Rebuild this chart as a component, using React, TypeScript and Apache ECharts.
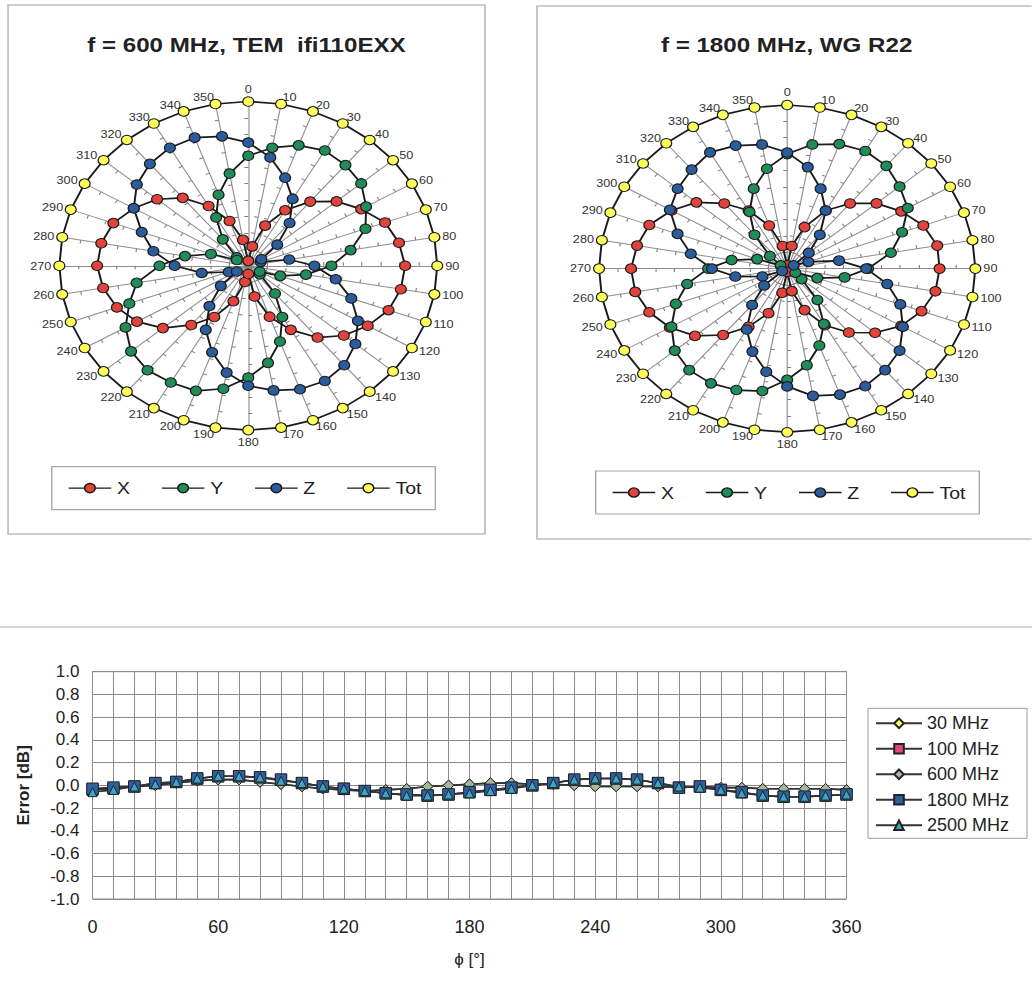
import React, { useEffect, useRef } from "react";
import * as echarts from "echarts";

// ---------- polar (radar) data, angles clockwise from top ----------
const ANGLES = [0, 10, 20, 30, 40, 50, 60, 70, 80, 90, 100, 110, 120, 130, 140, 150, 160, 170,
  180, 190, 200, 210, 220, 230, 240, 250, 260, 270, 280, 290, 300, 310, 320, 330, 340, 350];

const X_600 = [0.03, 0.12, 0.26, 0.39, 0.51, 0.61, 0.69, 0.77, 0.81, 0.83, 0.82, 0.79, 0.73, 0.66, 0.57, 0.45, 0.33, 0.19,
  0.05, 0.10, 0.23, 0.36, 0.47, 0.59, 0.68, 0.74, 0.78, 0.80, 0.79, 0.76, 0.70, 0.63, 0.54, 0.42, 0.29, 0.16];
const Y_600 = [0.67, 0.73, 0.78, 0.81, 0.80, 0.78, 0.72, 0.66, 0.55, 0.44, 0.31, 0.18, 0.07, 0.08, 0.22, 0.36, 0.49, 0.60,
  0.68, 0.76, 0.81, 0.82, 0.83, 0.81, 0.75, 0.67, 0.60, 0.47, 0.34, 0.21, 0.07, 0.08, 0.21, 0.34, 0.46, 0.57];
const Z_600 = [0.75, 0.67, 0.57, 0.47, 0.34, 0.20, 0.08, 0.07, 0.22, 0.35, 0.47, 0.58, 0.67, 0.74, 0.79, 0.81, 0.80, 0.77,
  0.73, 0.66, 0.56, 0.45, 0.32, 0.19, 0.07, 0.11, 0.25, 0.39, 0.51, 0.60, 0.70, 0.77, 0.81, 0.83, 0.83, 0.80];
const TOT_600 = [1, 1, 1, 1, 1, 1, 1, 1, 1, 1, 1, 1, 1, 1, 1, 1, 1, 1,
  1, 1, 1, 1, 1, 1, 1, 1, 1, 1, 1, 1, 1, 1, 1, 1, 1, 1];

const X_1800 = [0.02, 0.14, 0.27, 0.41, 0.52, 0.62, 0.70, 0.77, 0.81, 0.81, 0.80, 0.76, 0.70, 0.61, 0.51, 0.40, 0.27, 0.14,
  0.02, 0.15, 0.29, 0.41, 0.53, 0.64, 0.72, 0.78, 0.82, 0.83, 0.81, 0.78, 0.71, 0.63, 0.52, 0.41, 0.28, 0.14];
const Y_1800 = [0.70, 0.77, 0.81, 0.83, 0.82, 0.78, 0.74, 0.65, 0.56, 0.43, 0.31, 0.17, 0.05, 0.10, 0.25, 0.39, 0.50, 0.60,
  0.68, 0.76, 0.79, 0.81, 0.81, 0.78, 0.71, 0.63, 0.54, 0.42, 0.30, 0.17, 0.04, 0.12, 0.27, 0.40, 0.52, 0.62];
const Z_1800 = [0.71, 0.63, 0.52, 0.41, 0.27, 0.15, 0.04, 0.12, 0.28, 0.42, 0.54, 0.64, 0.71, 0.78, 0.81, 0.83, 0.82, 0.79,
  0.72, 0.64, 0.54, 0.43, 0.29, 0.16, 0.03, 0.14, 0.28, 0.40, 0.52, 0.62, 0.72, 0.76, 0.79, 0.82, 0.80, 0.77];
const TOT_1800 = [1, 1, 1, 1, 1, 1, 1, 1, 1, 1, 1, 1, 1, 1, 1, 1, 1, 1,
  1, 1, 1, 1, 1, 1, 1, 1, 1, 1, 1, 1, 1, 1, 1, 1, 1, 1];

const POLAR_NAMES = ["X", "Y", "Z", "Tot"];
const TITLE_LEFT = "f = 600 MHz, TEM  ifi110EXX";
const TITLE_RIGHT = "f = 1800 MHz, WG R22";

// ---------- error vs phi data ----------
const PHI = [0, 10, 20, 30, 40, 50, 60, 70, 80, 90, 100, 110, 120, 130, 140, 150, 160, 170, 180,
  190, 200, 210, 220, 230, 240, 250, 260, 270, 280, 290, 300, 310, 320, 330, 340, 350, 360];
const E_30 = [-0.04, -0.02, -0.01, 0.00, 0.02, 0.04, 0.05, 0.05, 0.03, 0.01, -0.01, -0.03, -0.04, -0.05, -0.04, -0.03, -0.01, 0.00, 0.01,
  0.02, 0.02, 0.01, 0.01, 0.00, -0.01, -0.01, -0.01, -0.01, -0.02, -0.01, -0.02, -0.02, -0.03, -0.03, -0.03, -0.03, -0.04];
const E_100 = [-0.04, -0.03, -0.01, 0.02, 0.03, 0.06, 0.08, 0.08, 0.07, 0.05, 0.02, -0.01, -0.03, -0.05, -0.07, -0.08, -0.09, -0.08, -0.06,
  -0.04, -0.02, 0.00, 0.02, 0.05, 0.06, 0.06, 0.05, 0.02, -0.02, -0.01, -0.04, -0.06, -0.09, -0.10, -0.10, -0.09, -0.08];
const E_600 = [-0.03, -0.02, -0.01, 0.00, 0.02, 0.04, 0.05, 0.05, 0.03, 0.01, -0.01, -0.03, -0.04, -0.05, -0.04, -0.03, -0.01, 0.00, 0.01,
  0.02, 0.02, 0.01, 0.01, 0.00, -0.01, -0.01, -0.01, -0.01, -0.02, -0.01, -0.02, -0.02, -0.03, -0.03, -0.03, -0.03, -0.04];
const E_1800 = [-0.03, -0.02, -0.01, 0.02, 0.03, 0.06, 0.08, 0.08, 0.07, 0.05, 0.02, -0.01, -0.03, -0.05, -0.07, -0.08, -0.09, -0.08, -0.06,
  -0.04, -0.02, 0.00, 0.02, 0.05, 0.06, 0.06, 0.05, 0.02, -0.02, -0.01, -0.04, -0.06, -0.09, -0.10, -0.10, -0.09, -0.08];
const E_2500 = [-0.06, -0.04, -0.01, 0.01, 0.03, 0.06, 0.08, 0.08, 0.07, 0.04, 0.02, -0.01, -0.03, -0.05, -0.07, -0.09, -0.09, -0.08, -0.07,
  -0.05, -0.03, 0.00, 0.02, 0.05, 0.06, 0.06, 0.05, 0.02, -0.01, -0.02, -0.04, -0.07, -0.09, -0.10, -0.10, -0.09, -0.08];
const ERR_NAMES = ["30 MHz", "100 MHz", "600 MHz", "1800 MHz", "2500 MHz"];

const FONT = "'Liberation Sans', Arial, Helvetica, sans-serif";
const SX = 1.15; // horizontal stretch of the scanned top charts
const COLORS = { X: "#e4433c", Y: "#1f8c5a", Z: "#2b5c9e", Tot: "#ffff5c" };
const LEG_ICON = "path://M0,5H13.5A4.5,4.5,0,1,1,22.5,5A4.5,4.5,0,1,1,13.5,5M22.5,5H36";

function buildRadar(center: number[], radius: number) {
  const order = ANGLES.map((_, i) => (ANGLES.length - i) % ANGLES.length);
  return {
    center,
    radius,
    startAngle: 90,
    shape: "circle",
    splitNumber: 10,
    indicator: order.map((j) => ({ name: String(ANGLES[j]), min: 0, max: 1 })),
    axisName: { color: "#333", fontSize: 11, fontFamily: FONT },
    nameGap: 7,
    axisLine: { lineStyle: { color: "#8e8e8e", width: 1 } },
    axisTick: { show: true, length: 3.5, lineStyle: { color: "#808080", width: 1 } },
    splitLine: { show: false },
    splitArea: { show: false },
  };
}

function buildRadarSeries(radarIndex: number, arrs: number[][]) {
  const order = ANGLES.map((_, i) => (ANGLES.length - i) % ANGLES.length);
  const pick = (a: number[]) => order.map((j) => a[j]);
  return {
    type: "radar",
    radarIndex,
    symbol: "circle",
    symbolSize: 9.5,
    data: POLAR_NAMES.map((n, k) => ({
      name: n,
      value: pick(arrs[k]),
      itemStyle: { color: (COLORS as any)[n], borderColor: "#1a1a1a", borderWidth: 1 },
      lineStyle: { color: "#1a1a1a", width: 1.7 },
    })),
  };
}

function buildLegend(left: number, top: number) {
  return {
    data: POLAR_NAMES.map((n) => ({ name: n, icon: LEG_ICON })),
    left,
    top,
    orient: "horizontal",
    itemWidth: 37,
    itemHeight: 10,
    itemGap: 27,
    padding: [13, 12, 13, 14],
    borderColor: "#a8a8a8",
    borderWidth: 1.2,
    selectedMode: false,
    itemStyle: { borderColor: "#1a1a1a", borderWidth: 1.4 },
    textStyle: { fontSize: 17, lineHeight: 17, fontFamily: FONT, color: "#222" },
  };
}

export default function App() {
  const topRef = useRef<HTMLDivElement>(null);
  const botRef = useRef<HTMLDivElement>(null);

  useEffect(() => {
    const top = echarts.init(topRef.current!, undefined, { renderer: "svg" });
    const bot = echarts.init(botRef.current!, undefined, { renderer: "svg" });

    top.setOption({
      animation: false,
      graphic: [
        { type: "rect", silent: true, shape: { x: 7, y: 5, width: 414.7, height: 529 },
          style: { fill: "none", stroke: "#bdbdbd", lineWidth: 1.5 } },
        { type: "rect", silent: true, shape: { x: 467, y: 6, width: 460, height: 533 },
          style: { fill: "none", stroke: "#bdbdbd", lineWidth: 1.5 } },
        { type: "text", silent: true, x: 214.3, y: 45,
          style: { text: TITLE_LEFT, fill: "#222", fontSize: 21, fontWeight: "bold", fontFamily: FONT,
            align: "center", verticalAlign: "middle", textAlign: "center", textVerticalAlign: "middle" } },
        { type: "text", silent: true, x: 684, y: 45,
          style: { text: TITLE_RIGHT, fill: "#222", fontSize: 21, fontWeight: "bold", fontFamily: FONT,
            align: "center", verticalAlign: "middle", textAlign: "center", textVerticalAlign: "middle" } },
      ],
      radar: [buildRadar([215.9, 265.8], 164.3), buildRadar([684.5, 268.6], 163.6)],
      legend: [buildLegend(45, 466.6), buildLegend(518, 471)],
      series: [
        buildRadarSeries(0, [X_600, Y_600, Z_600, TOT_600]),
        buildRadarSeries(1, [X_1800, Y_1800, Z_1800, TOT_1800]),
      ],
    });

    const errSets = [E_30, E_100, E_600, E_1800, E_2500];
    const symbols = ["diamond", "rect", "diamond", "rect", "triangle"];
    const sizes = [10.5, 11, 10.5, 11.5, 9];
    const fills = ["#ffff66", "#e0457b", "#a3b99c", "#2f5f9e", "#3aa6c6"];

    bot.setOption({
      animation: false,
      graphic: [
        { type: "line", silent: true, shape: { x1: 0, y1: 67, x2: 1032, y2: 67 },
          style: { stroke: "#c6c6c6", lineWidth: 1.6 } },
      ],
      grid: { left: 92.5, right: 185.5, top: 111.7, bottom: 93, show: true, borderColor: "#8c8c8c", borderWidth: 1 },
      xAxis: {
        type: "value", min: 0, max: 360, interval: 10,
        axisLine: { show: false }, axisTick: { show: false },
        splitLine: { lineStyle: { color: "#8c8c8c", width: 1 } },
        axisLabel: {
          formatter: (v: number) => (v % 60 === 0 ? String(v) : ""),
          fontSize: 18, margin: 19, color: "#222", fontFamily: FONT,
        },
        name: "ϕ [°]", nameLocation: "middle", nameGap: 52,
        nameTextStyle: { fontSize: 17, color: "#222", fontFamily: FONT },
      },
      yAxis: {
        type: "value", min: -1, max: 1, interval: 0.2,
        axisLine: { show: false }, axisTick: { show: false },
        splitLine: { lineStyle: { color: "#8c8c8c", width: 1 } },
        axisLabel: {
          formatter: (v: number) => (Math.abs(v) < 1e-9 ? "0.0" : v.toFixed(1)),
          fontSize: 17, margin: 13, color: "#222", fontFamily: FONT,
        },
        name: "Error [dB]", nameLocation: "middle", nameGap: 61,
        nameTextStyle: { fontSize: 17, fontWeight: "bold", color: "#222", fontFamily: FONT },
      },
      legend: {
        data: ERR_NAMES, orient: "vertical", left: 868, top: 148.3,
        itemWidth: 46, itemHeight: 12, itemGap: 7.5, padding: [6, 18, 4, 7],
        borderColor: "#9a9a9a", borderWidth: 1, selectedMode: false,
        textStyle: { fontSize: 18, lineHeight: 16, fontFamily: FONT, color: "#222" },
      },
      series: ERR_NAMES.map((n, k) => ({
        type: "line", name: n,
        data: PHI.map((p, i) => [p, errSets[k][i]]),
        symbol: symbols[k], symbolSize: sizes[k],
        itemStyle: { color: fills[k], borderColor: "#222", borderWidth: 1 },
        lineStyle: { color: "#333", width: 1.6 },
      })),
    });

    return () => {
      top.dispose();
      bot.dispose();
    };
  }, []);

  return (
    <div style={{ position: "absolute", left: 0, top: 0, width: 1032, height: 992, background: "#fff", overflow: "hidden" }}>
      <div
        ref={topRef}
        style={{ position: "absolute", left: 0, top: 0, width: 1032 / SX, height: 560, transform: `scaleX(${SX})`, transformOrigin: "0 0" }}
      />
      <div ref={botRef} style={{ position: "absolute", left: 0, top: 560, width: 1032, height: 432 }} />
    </div>
  );
}
